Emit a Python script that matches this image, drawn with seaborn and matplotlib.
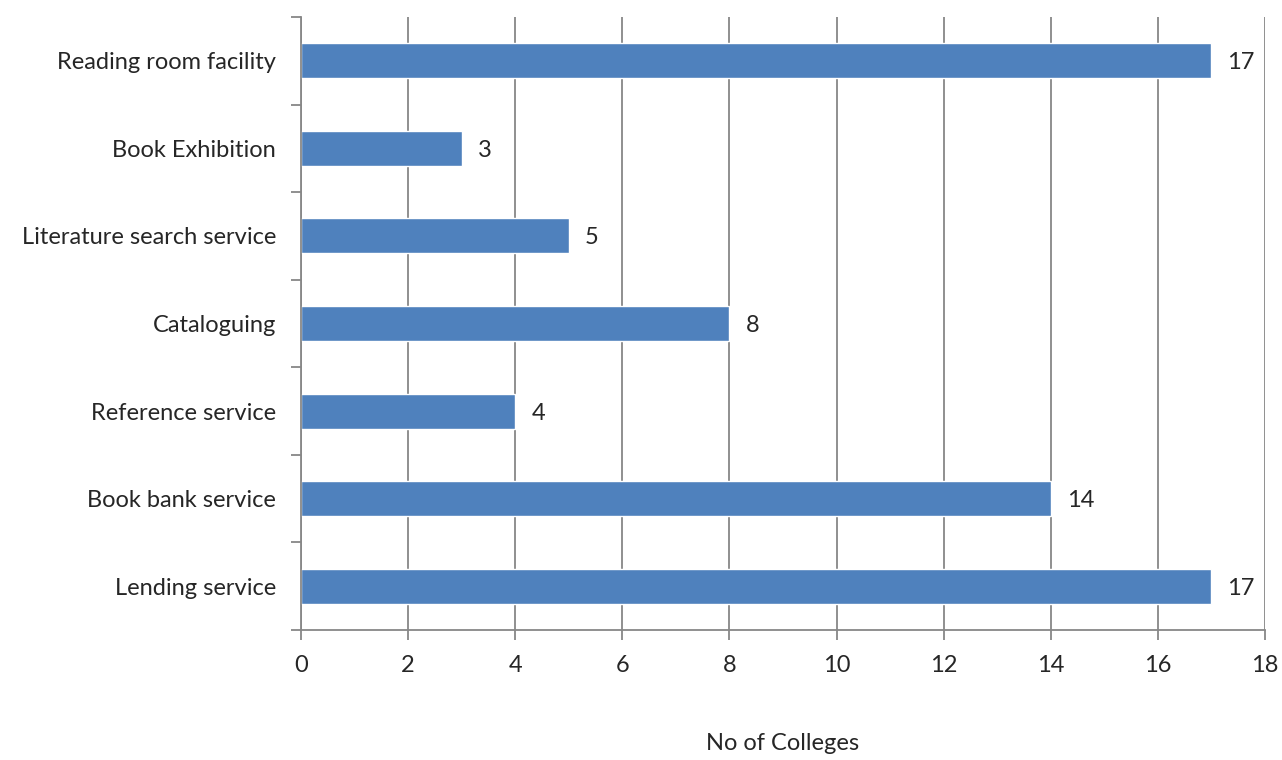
import numpy as np
import pandas as pd
import matplotlib
matplotlib.use("Agg")
import matplotlib.pyplot as plt
import seaborn as sns

# donnees
services = ["Reading room facility", "Book Exhibition", "Literature search service",
            "Cataloguing", "Reference service", "Book bank service", "Lending service"]
colleges = [17, 3, 5, 8, 4, 14, 17]

df = pd.DataFrame({"service": services, "colleges": colleges})

sns.set_style("white")
plt.rcParams['font.family'] = ['Lato', 'DejaVu Sans']

fig = plt.figure(figsize=(12.82, 7.6), dpi=100)
ax = fig.add_axes([0.2348, 0.1711, 0.7519, 0.8065])

sns.barplot(data=df, x="colleges", y="service", orient="h", color="#4F81BD",
            saturation=1, width=0.4, ax=ax, order=services)

gridcol = "#878787"
fs = 17
ax.set_xlim(0, 18)
ax.set_xticks(np.arange(0, 19, 2))
ax.set_ylim(len(services) - 0.5, -0.5)
ax.xaxis.grid(True, color=gridcol, linewidth=1.3)
ax.set_axisbelow(True)

# ticks de l'axe y aux limites des categories
ax.set_yticks(np.arange(-0.5, len(services), 1), minor=False)
ax.set_yticklabels([])
ax.set_yticks(np.arange(len(services)), minor=True)
ax.set_yticklabels(services, minor=True)
ax.tick_params(axis="y", which="major", length=7, width=1.3, color=gridcol, direction="out", left=True)
ax.tick_params(axis="y", which="minor", length=0, labelsize=fs, pad=18)
ax.tick_params(axis="x", length=7, width=1.3, color=gridcol, direction="out", bottom=True,
               labelsize=fs, pad=11)

for s in ["top", "right"]:
    ax.spines[s].set_visible(False)
for s in ["left", "bottom"]:
    ax.spines[s].set_color(gridcol)
    ax.spines[s].set_linewidth(1.3)

for i, v in enumerate(colleges):
    ax.text(v + 0.3, i, str(v), va="center_baseline", ha="left", fontsize=fs)

ax.set_ylabel("")
ax.set_xlabel("No of Colleges", fontsize=fs)
ax.xaxis.set_label_coords(0.5, -0.168)

fig.savefig("out.png", dpi=100)
